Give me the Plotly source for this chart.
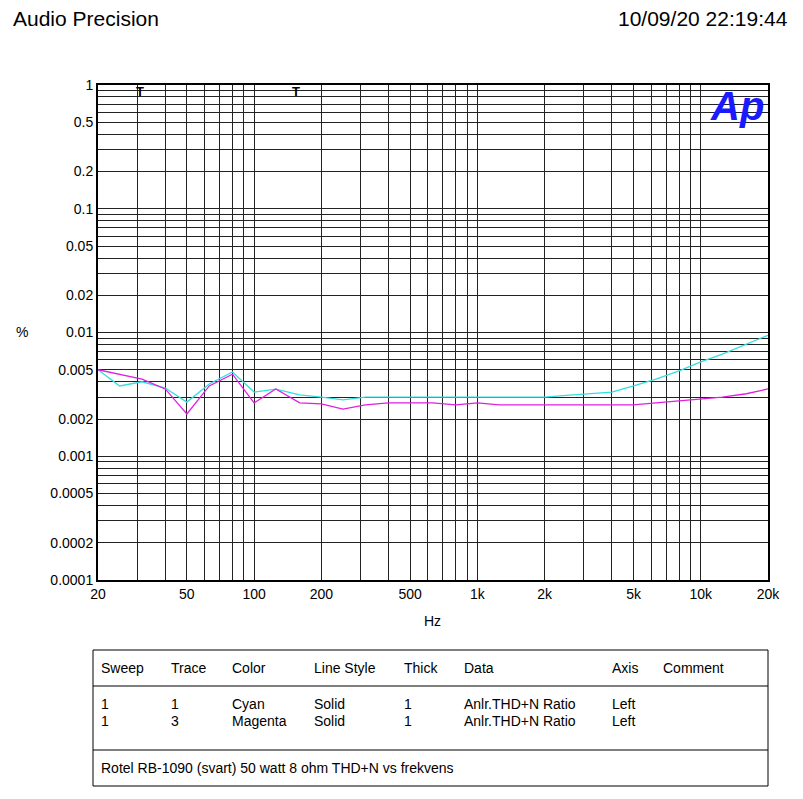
import plotly.graph_objects as go

freqs = [20, 25, 31.5, 40, 50, 63, 80, 100, 125, 160, 200, 250, 315, 400, 500, 630, 800,
         1000, 1250, 1600, 2000, 2500, 3150, 4000, 5000, 6300, 8000, 10000, 12500, 16000, 20000]
cyan = [0.0050, 0.0037, 0.0040, 0.00356, 0.00274, 0.00384, 0.0048, 0.0033, 0.00349, 0.00313,
        0.0030, 0.00285, 0.0030, 0.0030, 0.0030, 0.0030, 0.0030, 0.0030, 0.0030, 0.0030,
        0.0030, 0.0031, 0.00318, 0.0033, 0.0037, 0.0042, 0.0049, 0.0058, 0.0067, 0.0080, 0.0095]
magenta = [0.0050, 0.0046, 0.0042, 0.0035, 0.0022, 0.0037, 0.0046, 0.0027, 0.0035, 0.0027,
           0.00265, 0.0024, 0.0026, 0.0027, 0.0027, 0.0027, 0.0026, 0.0027, 0.0026, 0.0026,
           0.0026, 0.0026, 0.0026, 0.0026, 0.0026, 0.0027, 0.0028, 0.0029, 0.0030, 0.0032, 0.0035]

x_labels = {20: "20", 50: "50", 100: "100", 200: "200", 500: "500", 1000: "1k",
            2000: "2k", 5000: "5k", 10000: "10k", 20000: "20k"}
y_labels = {1: "1", 0.5: "0.5", 0.2: "0.2", 0.1: "0.1", 0.05: "0.05", 0.02: "0.02",
            0.01: "0.01", 0.005: "0.005", 0.002: "0.002", 0.001: "0.001",
            0.0005: "0.0005", 0.0002: "0.0002", 0.0001: "0.0001"}

xgrid = [m * 10 ** d for d in range(1, 5) for m in range(1, 10) if 20 <= m * 10 ** d <= 20000]
ygrid = [round(m * 10.0 ** d, 8) for d in range(-4, 1) for m in range(1, 10) if m * 10.0 ** d <= 1]

fig = go.Figure()
fig.add_trace(go.Scatter(x=freqs, y=cyan, mode="lines", line=dict(color="#33dede", width=1.3)))
fig.add_trace(go.Scatter(x=freqs, y=magenta, mode="lines", line=dict(color="#e020e0", width=1.3)))

FONT = "Arial, Liberation Sans"
fig.update_layout(
    width=803, height=799, showlegend=False,
    margin=dict(l=90, r=43, t=77, b=227),
    plot_bgcolor="white", paper_bgcolor="white",
    font=dict(family=FONT, size=14, color="black"),
    xaxis=dict(type="log", range=[1.30103, 4.30103], tickvals=xgrid,
               ticktext=[x_labels.get(v, "") for v in xgrid],
               showgrid=True, gridcolor="#222", gridwidth=1.2, showline=True, linecolor="black",
               linewidth=2, mirror=True, ticks="", zeroline=False),
    yaxis=dict(type="log", range=[-4, 0], tickvals=ygrid,
               ticktext=[y_labels.get(v, "") for v in ygrid],
               showgrid=True, gridcolor="#222", gridwidth=1.2, showline=True, linecolor="black",
               linewidth=2, mirror=True, ticks="", zeroline=False),
)

def py(p):
    return (580 - p) / 495

def px(p):
    return (p - 98) / 670

ann = [
    (11, 18, "Audio Precision", "left", 21),
    (790, 18, "10/09/20 22:19:44", "right", 21),
    (22, 332, "%", "center", 14),
    (432, 621, "Hz", "center", 14),
    (140, 92, "<b>T</b>", "center", 13),
    (296, 92, "<b>T</b>", "center", 13),
]
for xp, yp, t, al, s in ann:
    fig.add_annotation(x=px(xp), y=py(yp), xref="paper", yref="paper", text=t, showarrow=False,
                       xanchor=al, yanchor="middle", font=dict(size=s, family=FONT))
fig.add_annotation(x=px(766), y=py(106), xref="paper", yref="paper", text="<b><i>Ap</i></b>",
                   showarrow=False, xanchor="right", yanchor="middle",
                   font=dict(size=40, color="#1a1aff", family=FONT))

# table
fig.add_shape(type="rect", xref="paper", yref="paper", x0=px(93), x1=px(768), y0=py(650), y1=py(786),
              line=dict(color="black", width=1))
for ly in (686, 750):
    fig.add_shape(type="line", xref="paper", yref="paper", x0=px(93), x1=px(768), y0=py(ly), y1=py(ly),
                  line=dict(color="black", width=1))
cols = [99, 169, 230, 312, 402, 462, 610, 661]
rows = [["Sweep", "Trace", "Color", "Line Style", "Thick", "Data", "Axis", "Comment"],
        ["1", "1", "Cyan", "Solid", "1", "Anlr.THD+N Ratio", "Left", ""],
        ["1", "3", "Magenta", "Solid", "1", "Anlr.THD+N Ratio", "Left", ""]]
for r, yp in zip(rows, (668, 704, 721)):
    for c, t in zip(cols, r):
        if t:
            fig.add_annotation(x=px(c), y=py(yp), xref="paper", yref="paper", text=t, showarrow=False,
                               xanchor="left", yanchor="middle", font=dict(size=14, family=FONT))
fig.add_annotation(x=px(99), y=py(768), xref="paper", yref="paper",
                   text="Rotel RB-1090 (svart) 50 watt 8 ohm THD+N vs frekvens", showarrow=False,
                   xanchor="left", yanchor="middle", font=dict(size=14, family=FONT))

fig.write_html("out.html")
